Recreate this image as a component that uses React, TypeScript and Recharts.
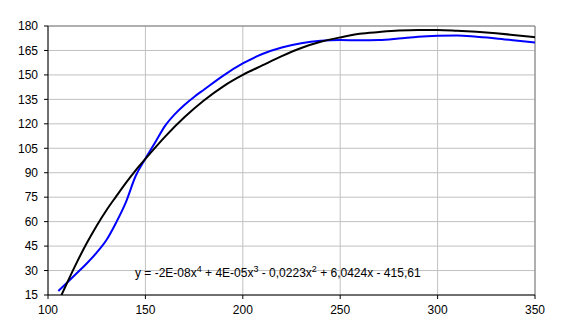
import { LineChart, Line, XAxis, YAxis, CartesianGrid, ReferenceLine } from 'recharts';

const xTicks = [100, 150, 200, 250, 300, 350];
const yTicks = [15, 30, 45, 60, 75, 90, 105, 120, 135, 150, 165, 180];

const blueX = [105.3, 110, 115, 120, 125, 130, 135, 140, 145, 150, 155, 160, 165, 170, 175, 180, 190, 200, 210, 220, 230, 240, 250, 260, 270, 280, 290, 300, 310, 320, 330, 340, 350];
const blueY = [17.4, 22.8, 28.6, 34.5, 41, 48.7, 59.5, 72, 88, 98.6, 108.5, 118.6, 125.8, 131.6, 136.5, 140.9, 149.6, 157, 162.8, 166.8, 169.4, 170.9, 171.4, 171.2, 171.4, 172.3, 173.4, 174, 174.2, 173.4, 172.4, 171.1, 169.8];

const trendX = [105, 110, 115, 120, 125, 130, 135, 140, 145, 150, 160, 170, 180, 190, 200, 210, 220, 230, 240, 250, 260, 270, 280, 290, 300, 310, 320, 330, 340, 350];
const trendY = [10, 23, 35.5, 47, 57.5, 67, 75.5, 83.8, 91.5, 98.5, 112, 124, 134.3, 143, 150, 155.8, 161.5, 166.5, 170.3, 173, 175.2, 176.3, 177.2, 177.6, 177.6, 177.1, 176.4, 175.5, 174.4, 173.1];

const blueData = blueX.map((x, i) => ({ x, y: blueY[i] }));
const trendData = trendX.map((x, i) => ({ x, y: trendY[i] }));

const font = { fontFamily: 'Liberation Sans, Arial, sans-serif', fontSize: 12, fill: '#000' };

export default function App() {
  return (
    <div style={{ position: 'absolute', left: 0, top: 0, width: 562, height: 330, background: '#fff' }}>
      <LineChart width={562} height={330} margin={{ top: 26, right: 27, bottom: 0, left: 0 }}>
        <CartesianGrid stroke="#c0c0c0" />
        <XAxis
          type="number"
          dataKey="x"
          domain={[100, 350]}
          ticks={xTicks}
          allowDataOverflow
          height={35}
          tick={font}
          tickSize={4}
          tickMargin={6}
          stroke="#000"
        />
        <YAxis
          type="number"
          dataKey="y"
          domain={[15, 180]}
          ticks={yTicks}
          allowDataOverflow
          width={48}
          tick={font}
          tickSize={4}
          tickMargin={6}
          stroke="#000"
        />
        <ReferenceLine y={180} stroke="#808080" />
        <ReferenceLine x={350} stroke="#808080" />
        <Line data={blueData} dataKey="y" type="monotone" stroke="#0000ff" strokeWidth={2} dot={false} isAnimationActive={false} />
        <Line data={trendData} dataKey="y" type="monotone" stroke="#000000" strokeWidth={2} dot={false} isAnimationActive={false} />
      </LineChart>
      <div
        style={{
          position: 'absolute',
          left: 135,
          top: 262,
          fontFamily: 'Liberation Sans, Arial, sans-serif',
          fontSize: 12,
          whiteSpace: 'nowrap',
          lineHeight: '14px',
        }}
      >
        y = -2E-08x<sup style={{ fontSize: 9 }}>4</sup> + 4E-05x<sup style={{ fontSize: 9 }}>3</sup> - 0,0223x
        <sup style={{ fontSize: 9 }}>2</sup> + 6,0424x - 415,61
      </div>
    </div>
  );
}
